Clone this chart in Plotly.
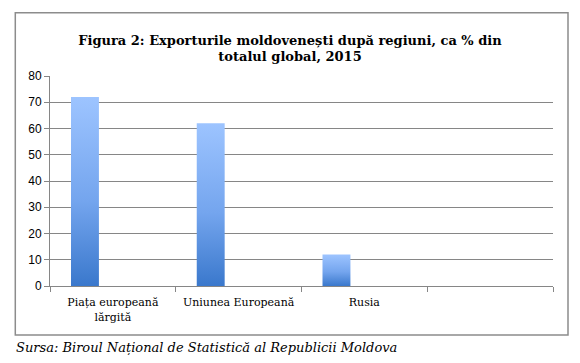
import plotly.graph_objects as go

# ---- data ----
categories = ["Piața europeană<br>lărgită", "Uniunea Europeană", "Rusia", ""]
values = [72, 62, 12, None]
y_ticks = [0, 10, 20, 30, 40, 50, 60, 70, 80]
title_text = "Figura 2: Exporturile moldovenești după regiuni, ca % din<br>totalul global, 2015"
source_text = "Sursa: Biroul Național de Statistică al Republicii Moldova"

# ---- style / layout constants ----
W, H = 580, 363
PL, PR, PT, PB = 50, 553, 76, 286          # plot area in pixels
BAR_OFFSET = -0.333                        # bar left edge relative to category centre
BAR_WIDTH = 0.222
GRID = "#868686"
SERIF = "DejaVu Serif"
grad = [[0.0, "#3a78cc"], [0.45, "#74a5ee"], [1.0, "#9dc4ff"]]

x_pos = list(range(len(categories)))

fig = go.Figure()
for xp, v in zip(x_pos, values):
    if v is None:
        continue
    l = xp + BAR_OFFSET
    r = l + BAR_WIDTH
    fig.add_trace(go.Scatter(
        x=[l, l, r, r, l], y=[0, v, v, 0, 0],
        mode="lines", line=dict(width=0), fill="toself",
        fillgradient=dict(type="vertical", colorscale=grad),
        hoverinfo="skip", showlegend=False))

pw = PR - PL
ph = PB - PT
def px_x(p):
    return (p - PL) / pw
def px_y(p):
    return (PB - p) / ph

fig.update_layout(
    width=W, height=H,
    margin=dict(l=PL, r=W - PR, t=PT, b=H - PB),
    paper_bgcolor="white", plot_bgcolor="white",
    showlegend=False,
    title=dict(text=title_text, x=0.5, xref="container", xanchor="center",
               y=1 - 44.5 / H, yref="container", yanchor="middle",
               font=dict(family=SERIF, size=13, color="#000000", weight="bold")),
    xaxis=dict(range=[-0.5, len(categories) - 0.5], tickmode="array",
               tickvals=x_pos, ticktext=categories, ticks="", showgrid=False,
               zeroline=False, showline=True, linecolor=GRID, linewidth=1,
               ticklabelstandoff=6,
               tickfont=dict(family=SERIF, size=11, color="#000000"),
               minor=dict(tickmode="linear", tick0=-0.5, dtick=1, ticks="outside",
                          ticklen=5, tickcolor=GRID, tickwidth=1, showgrid=False)),
    yaxis=dict(range=[0, 80], tickmode="array", tickvals=y_ticks, ticks="outside",
               ticklen=5, tickcolor=GRID, showgrid=True, gridcolor=GRID, gridwidth=1,
               zeroline=False, showline=True, linecolor=GRID, linewidth=1,
               tickfont=dict(family="Liberation Sans", size=12, color="#000000")),
    shapes=[dict(type="rect", xref="paper", yref="paper",
                 x0=px_x(15.3), x1=px_x(568), y0=px_y(335), y1=px_y(12.7),
                 line=dict(color="#8c8c8c", width=1.5), fillcolor="rgba(0,0,0,0)",
                 layer="below")],
    annotations=[dict(text=source_text, xref="paper", yref="paper",
                      x=px_x(14), y=px_y(347), xanchor="left", yanchor="middle",
                      showarrow=False,
                      font=dict(family="DejaVu Serif", size=13, color="#000000",
                                style="italic"))],
)

fig.write_html("out.html", config={"displayModeBar": False},
               post_script="document.body.style.margin='0';")
